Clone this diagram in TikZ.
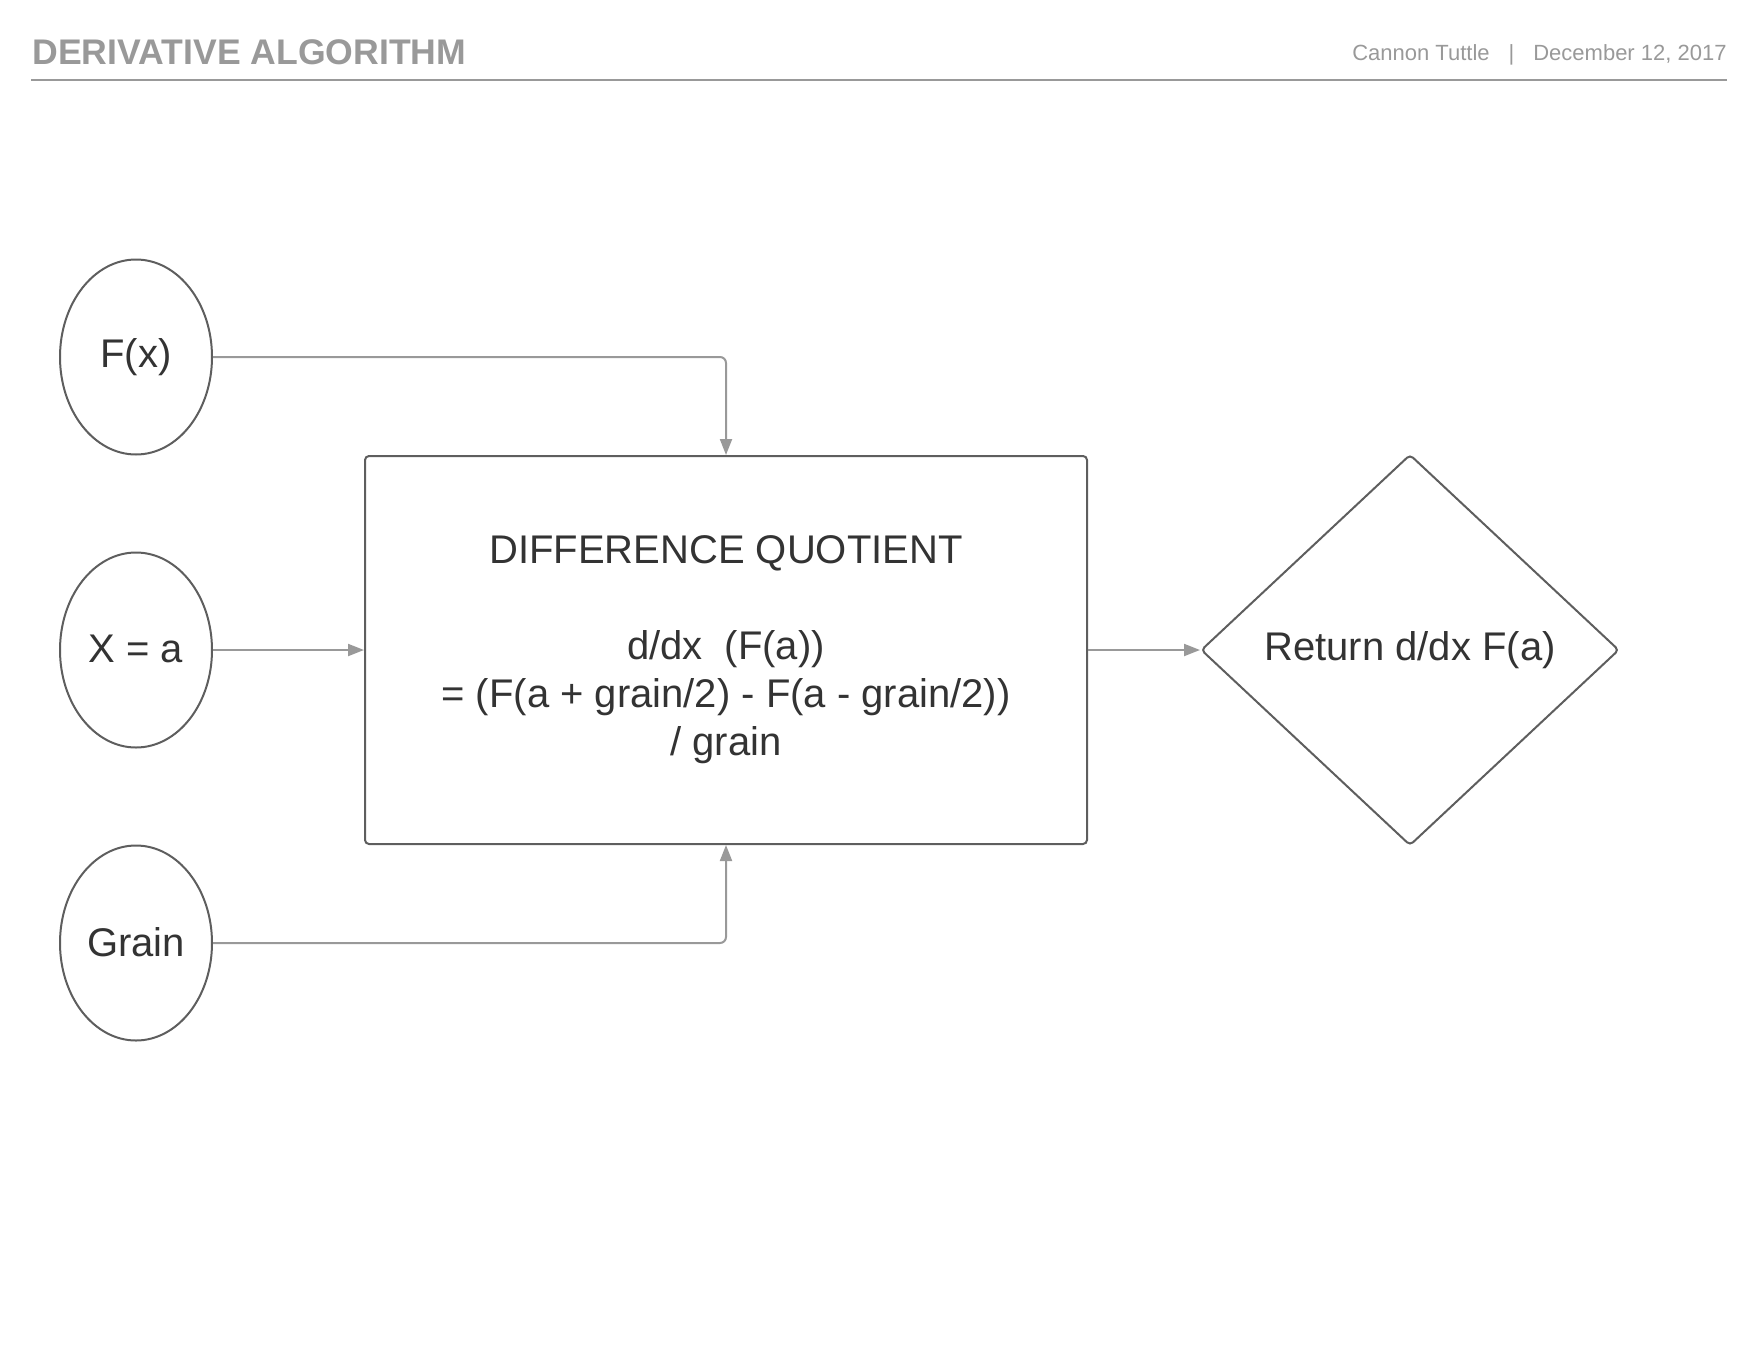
\documentclass[tikz,border=0pt]{standalone}
\usepackage{fontspec}
\setmainfont{Liberation Sans}
\usetikzlibrary{shapes.geometric, arrows.meta, positioning}
\definecolor{txtgray}{HTML}{333333}
\definecolor{shapegray}{HTML}{5E5E5E}
\definecolor{conngray}{HTML}{999999}
\definecolor{headgray}{HTML}{999999}

\begin{document}
\begin{tikzpicture}[x=0.5pt, y=-0.5pt,
  inputnode/.style={draw=shapegray, line width=1pt, ellipse, inner sep=0pt,
    minimum width=76pt, minimum height=97.5pt, text=txtgray,
    font=\fontsize{20}{24}\selectfont},
  procnode/.style={draw=shapegray, line width=1pt, rectangle, rounded corners=2pt,
    minimum width=361pt, minimum height=194pt, align=center, text=txtgray,
    font=\fontsize{20}{24}\selectfont},
  decnode/.style={draw=shapegray, line width=1pt, diamond, rounded corners=2pt,
    inner sep=0pt, minimum width=209pt, minimum height=195.5pt, text=txtgray,
    font=\fontsize{20}{24}\selectfont},
  conn/.style={draw=conngray, line width=1pt, rounded corners=3pt,
    -{Triangle[length=8pt, width=6pt]}}]
\useasboundingbox (0,0) rectangle (1760,1360);

% Header
\node[anchor=base west, inner sep=0pt, text=headgray, font=\fontsize{17.8}{20}\selectfont\bfseries] (title) at (32,64) {DERIVATIVE ALGORITHM};
\node[anchor=base east, inner sep=0pt, text=headgray, font=\fontsize{11}{13}\selectfont] (author) at (1727,60) {Cannon Tuttle\hspace{9.5pt}|\hspace{9.5pt}December 12, 2017};
\coordinate (headL) at (31,80);
\coordinate (headR) at (1727,80);
\draw[headgray, line width=1.1pt] (headL) -- (headR);

% Inputs
\node[inputnode] (fx) at (136,357) {\raisebox{1.5pt}{F(x)}};
\node[inputnode] (xa) at (136,650) {\raisebox{1.5pt}{X = a}};
\node[inputnode] (grain) at (136,943) {\raisebox{1.5pt}{Grain}};

% Difference quotient
\node[procnode] (diff) at (726,650)
   {DIFFERENCE QUOTIENT\\[24pt]d/dx~~(F(a))\\= (F(a + grain/2) - F(a - grain/2))\\/ grain};

% Result
\node[decnode] (ret) at (1410,650) {\raisebox{1pt}{Return d/dx F(a)}};

% Connectors
\draw[conn] (fx.east) -| (diff.north);
\draw[conn] (xa.east) -- (diff.west);
\draw[conn] (grain.east) -| (diff.south);
\draw[conn] (diff.east) -- (ret.west);
\end{tikzpicture}
\end{document}
